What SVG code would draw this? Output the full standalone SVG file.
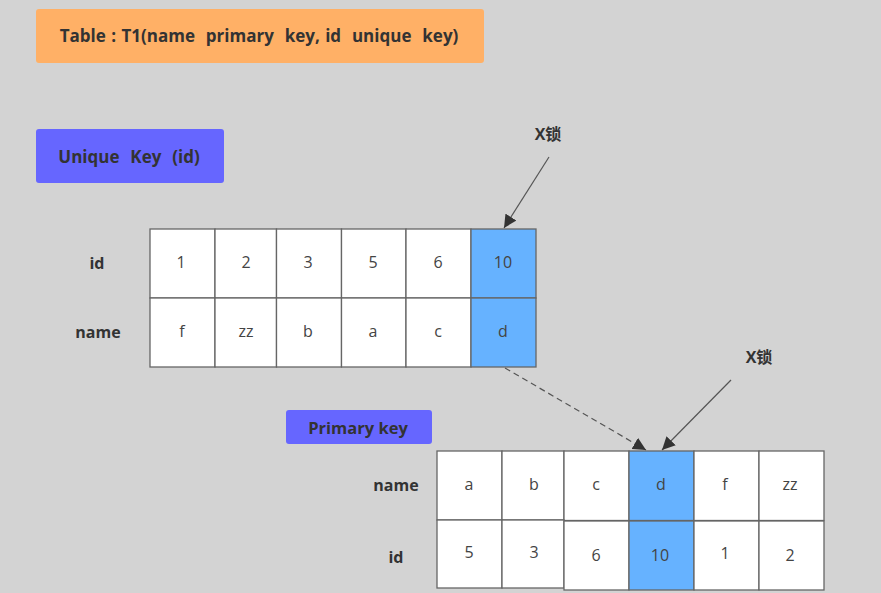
<svg xmlns="http://www.w3.org/2000/svg" width="881" height="593" viewBox="0 0 881 593">
<defs>
<style>
.lbl{font-family:"Open Sans","DejaVu Sans",sans-serif;font-weight:bold;font-size:16px;fill:#333;text-anchor:middle;dominant-baseline:central}
.big{font-size:17px;word-spacing:1px}
.cell{fill:#fff;stroke:#666;stroke-width:1.3}
.hl{fill:#66b2ff}
.val{font-family:"Open Sans","DejaVu Sans",sans-serif;font-size:16px;fill:#444;text-anchor:middle;dominant-baseline:central}
.conn{stroke:#555;stroke-width:1.2;fill:none}
</style>
<marker id="ah" viewBox="0 0 10 10" refX="10" refY="5" markerWidth="13" markerHeight="13" markerUnits="userSpaceOnUse" orient="auto">
<path d="M0,0 L10,5 L0,10 z" fill="#333"/>
</marker>
</defs>
<rect width="881" height="593" fill="#d3d3d3"/>

<g id="title">
<rect x="36" y="9" width="448" height="54" rx="3" fill="#ffb066"/>
<text class="lbl big" x="259" y="35" xml:space="preserve">Table : T1(name  primary  key, id  unique  key)</text>
</g>

<g id="unique-key">
<rect x="36" y="129" width="188" height="54" rx="3" fill="#6666ff"/>
<text class="lbl big" x="129" y="156" xml:space="preserve">Unique  Key  (id)</text>
</g>

<g id="xlock1">
<text class="lbl" x="548" y="134" style="font-family:'Open Sans','Noto Sans CJK SC',sans-serif">X锁</text>
</g>

<g id="unique-labels">
<text class="lbl" x="97" y="263">id</text>
<text class="lbl" x="98" y="332">name</text>
</g>

<g id="unique-table">
<rect class="cell" x="150" y="229" width="65" height="69"/>
<rect class="cell" x="215" y="229" width="61.5" height="69"/>
<rect class="cell" x="276.5" y="229" width="65" height="69"/>
<rect class="cell" x="341.5" y="229" width="64.5" height="69"/>
<rect class="cell" x="406" y="229" width="65" height="69"/>
<rect class="cell hl" x="471" y="229" width="65" height="69"/>
<rect class="cell" x="150" y="298" width="65" height="69"/>
<rect class="cell" x="215" y="298" width="61.5" height="69"/>
<rect class="cell" x="276.5" y="298" width="65" height="69"/>
<rect class="cell" x="341.5" y="298" width="64.5" height="69"/>
<rect class="cell" x="406" y="298" width="65" height="69"/>
<rect class="cell hl" x="471" y="298" width="65" height="69"/>
<text class="val" x="181" y="262">1</text>
<text class="val" x="246" y="262">2</text>
<text class="val" x="308" y="262">3</text>
<text class="val" x="373" y="262">5</text>
<text class="val" x="438" y="262">6</text>
<text class="val" x="503" y="262">10</text>
<text class="val" x="182" y="331">f</text>
<text class="val" x="246" y="331">zz</text>
<text class="val" x="308" y="331">b</text>
<text class="val" x="373" y="331">a</text>
<text class="val" x="438" y="331">c</text>
<text class="val" x="503" y="331">d</text>
</g>

<g id="primary-key">
<rect x="286" y="410" width="146" height="34" rx="3" fill="#6666ff"/>
<text class="lbl" x="358" y="427" style="font-size:16.5px">Primary key</text>
</g>

<g id="xlock2">
<text class="lbl" x="759" y="357" style="font-family:'Open Sans','Noto Sans CJK SC',sans-serif">X锁</text>
</g>

<g id="primary-labels">
<text class="lbl" x="396" y="485">name</text>
<text class="lbl" x="396" y="557">id</text>
</g>

<g id="primary-table">
<rect class="cell" x="437" y="451" width="65" height="69"/>
<rect class="cell" x="502" y="451" width="62" height="69"/>
<rect class="cell" x="564" y="451" width="65" height="69.5"/>
<rect class="cell hl" x="629" y="451" width="65" height="69.5"/>
<rect class="cell" x="694" y="451" width="65" height="69.5"/>
<rect class="cell" x="759" y="451" width="65" height="69.5"/>
<rect class="cell" x="437" y="520" width="65" height="68"/>
<rect class="cell" x="502" y="520" width="62" height="68"/>
<rect class="cell" x="564" y="521" width="65" height="69"/>
<rect class="cell hl" x="629" y="521" width="65" height="69"/>
<rect class="cell" x="694" y="521" width="65" height="69"/>
<rect class="cell" x="759" y="521" width="65" height="69"/>
<text class="val" x="469" y="484">a</text>
<text class="val" x="534" y="484">b</text>
<text class="val" x="596" y="484">c</text>
<text class="val" x="661" y="484">d</text>
<text class="val" x="725" y="484">f</text>
<text class="val" x="790" y="484">zz</text>
<text class="val" x="469" y="552">5</text>
<text class="val" x="534" y="552">3</text>
<text class="val" x="596" y="555">6</text>
<text class="val" x="660" y="555">10</text>
<text class="val" x="725" y="553">1</text>
<text class="val" x="790" y="555">2</text>
</g>

<g id="connectors">
<line class="conn" x1="549" y1="157" x2="504" y2="228" marker-end="url(#ah)"/>
<line class="conn" x1="505" y1="368" x2="646" y2="450" stroke-dasharray="6,4" marker-end="url(#ah)"/>
<line class="conn" x1="731" y1="380" x2="662" y2="450" marker-end="url(#ah)"/>
</g>
</svg>
